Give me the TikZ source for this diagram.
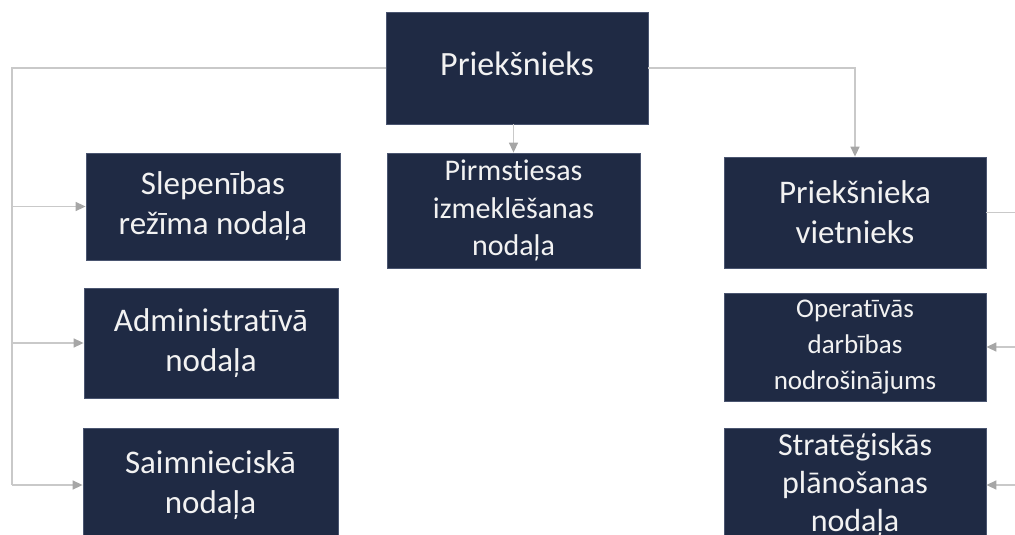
\documentclass[tikz,border=0pt]{standalone}
\usepackage{fontspec}
\setmainfont{Carlito}[RawFeature={-liga;-clig;-rlig;-calt;-dlig}]
\usetikzlibrary{arrows.meta}
\definecolor{boxnavy}{HTML}{1F2A44}
\definecolor{boxedge}{HTML}{4A5570}
\definecolor{linegray}{HTML}{C9C9C9}
\definecolor{tipgray}{HTML}{A6A6A6}
\definecolor{txt}{HTML}{F2F2F2}
\tikzset{
  orgbox/.style={fill=boxnavy, draw=boxedge, line width=0.8pt, inner sep=0pt,
    text=txt, align=center, font=\fontsize{33}{40}\selectfont},
  conn/.style={draw=linegray, line width=1.5pt},
  arr/.style={conn, -{Triangle[length=10pt,width=9pt,color=tipgray]}},
}
\begin{document}
\begin{tikzpicture}[x=1pt,y=-1pt]
\useasboundingbox (0,0) rectangle (1015,535);
\clip (0,0) rectangle (1015,535);
% boxes
\node[orgbox, minimum width=262pt, minimum height=112pt, font=\fontsize{34}{40}\selectfont] (boss) at (517,68) {\raisebox{8pt}{Priekšnieks}};
\node[orgbox, minimum width=254pt, minimum height=107pt] (slep) at (213,206.5) {\raisebox{-2pt}{Slepenības}\\\raisebox{-2pt}{režīma nodaļa}};
\node[orgbox, minimum width=253pt, minimum height=115pt, font=\fontsize{30}{37.5}\selectfont] (pirm) at (513.5,210.5) {Pirmstiesas\\izmeklēšanas\\nodaļa};
\node[orgbox, minimum width=262pt, minimum height=111pt] (dep) at (855,212.5) {Priekšnieka\\vietnieks};
\node[orgbox, minimum width=254pt, minimum height=110pt] (adm) at (211,343) {\raisebox{-2pt}{Administratīvā}\\\raisebox{-2pt}{nodaļa}};
\node[orgbox, minimum width=255pt, minimum height=114pt] (saim) at (210.5,485) {Saimnieciskā\\nodaļa};
\node[orgbox, minimum width=262pt, minimum height=108pt, font=\fontsize{27}{36}\selectfont] (oper) at (855,347) {\raisebox{-3pt}{Operatīvās}\\\raisebox{-3pt}{darbības}\\\raisebox{-3pt}{nodrošinājums}};
\node[orgbox, minimum width=262pt, minimum height=114pt, font=\fontsize{32}{38}\selectfont] (strat) at (855,485) {Stratēģiskās\\plānošanas\\nodaļa};
% trunk coordinates
\coordinate (lb) at (12,485);
\coordinate (rt) at (1028,212.5);
\coordinate (rb) at (1028,485);
% connectors
\draw[conn] (boss.west) -| (lb);
\draw[arr] (lb |- slep.west) -- (slep.west);
\draw[arr] (lb |- adm.west) -- (adm.west);
\draw[arr] (lb |- saim.west) -- (saim.west);
\draw[arr] (pirm.north |- boss.south) -- (pirm.north);
\draw[arr] (boss.east) -| (dep.north);
\draw[conn] (dep.east) -- (rt) -- (rb);
\draw[arr] (rb |- oper.east) -- (oper.east);
\draw[arr] (rb) -- (strat.east);
\end{tikzpicture}
\end{document}
